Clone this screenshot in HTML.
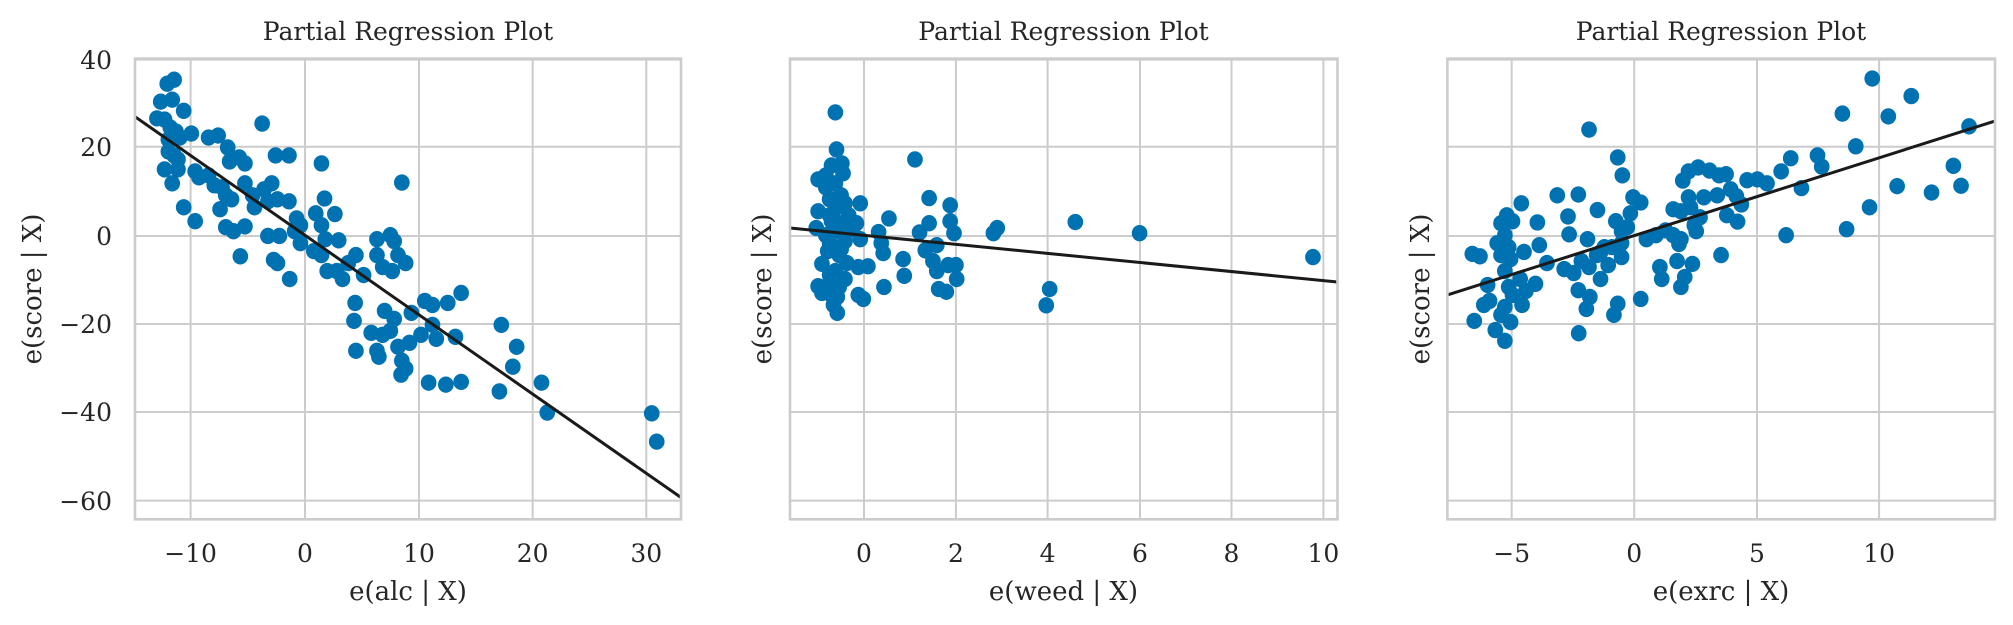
<!DOCTYPE html>
<html><head><meta charset="utf-8"><style>
html,body{margin:0;padding:0;background:#fff;}
svg{display:block;}
text{font-family:"DejaVu Serif","Liberation Serif",serif;fill:#262626;}
.t{font-size:25px;}
.l{font-size:26px;}
.ti{font-size:25px;}
.g line{stroke:#cccccc;stroke-width:2;}
.sp{fill:none;stroke:#cccccc;stroke-width:2.6;}
.d circle{fill:#0072b2;r:20.5px;}
</style></head><body>
<svg width="2013" height="625" viewBox="0 0 2013 625" xmlns="http://www.w3.org/2000/svg">
<defs>
<clipPath id="c1"><rect x="135" y="58.6" width="546" height="460.7"/></clipPath>
<clipPath id="c2"><rect x="790" y="58.6" width="547.5" height="460.7"/></clipPath>
<clipPath id="c3"><rect x="1447.4" y="58.6" width="547.6" height="460.7"/></clipPath>
</defs>
<rect width="2013" height="625" fill="#fff"/>

<!-- Panel 1 -->
<g class="g">
<line x1="135" x2="681" y1="59.6" y2="59.6"/><line x1="135" x2="681" y1="146.7" y2="146.7"/><line x1="135" x2="681" y1="236" y2="236"/><line x1="135" x2="681" y1="324" y2="324"/><line x1="135" x2="681" y1="412" y2="412"/><line x1="135" x2="681" y1="500.6" y2="500.6"/>
<line y1="58.6" y2="519.3" x1="190.6" x2="190.6"/><line y1="58.6" y2="519.3" x1="305" x2="305"/><line y1="58.6" y2="519.3" x1="419" x2="419"/><line y1="58.6" y2="519.3" x1="532.7" x2="532.7"/><line y1="58.6" y2="519.3" x1="646.3" x2="646.3"/>
</g>
<g clip-path="url(#c1)">
<g class="d" transform="scale(0.3827,0.3986)">
<circle r="20.5" cx="437" cy="210"/><circle r="20.5" cx="455" cy="200"/><circle r="20.5" cx="420" cy="255"/><circle r="20.5" cx="450" cy="250"/><circle r="20.5" cx="480" cy="278"/><circle r="20.5" cx="410" cy="297"/><circle r="20.5" cx="430" cy="300"/><circle r="20.5" cx="445" cy="320"/><circle r="20.5" cx="460" cy="330"/><circle r="20.5" cx="440" cy="350"/><circle r="20.5" cx="470" cy="345"/><circle r="20.5" cx="500" cy="335"/><circle r="20.5" cx="440" cy="380"/><circle r="20.5" cx="455" cy="390"/><circle r="20.5" cx="465" cy="400"/><circle r="20.5" cx="430" cy="425"/><circle r="20.5" cx="450" cy="460"/><circle r="20.5" cx="465" cy="425"/><circle r="20.5" cx="480" cy="520"/><circle r="20.5" cx="510" cy="555"/><circle r="20.5" cx="510" cy="430"/><circle r="20.5" cx="520" cy="445"/><circle r="20.5" cx="545" cy="345"/><circle r="20.5" cx="570" cy="340"/><circle r="20.5" cx="595" cy="370"/><circle r="20.5" cx="600" cy="405"/><circle r="20.5" cx="625" cy="395"/><circle r="20.5" cx="640" cy="410"/><circle r="20.5" cx="545" cy="440"/><circle r="20.5" cx="560" cy="465"/><circle r="20.5" cx="580" cy="470"/><circle r="20.5" cx="590" cy="490"/><circle r="20.5" cx="575" cy="525"/><circle r="20.5" cx="605" cy="500"/><circle r="20.5" cx="640" cy="460"/><circle r="20.5" cx="660" cy="490"/><circle r="20.5" cx="665" cy="520"/><circle r="20.5" cx="690" cy="475"/><circle r="20.5" cx="710" cy="460"/><circle r="20.5" cx="720" cy="390"/><circle r="20.5" cx="755" cy="390"/><circle r="20.5" cx="685" cy="310"/><circle r="20.5" cx="700" cy="505"/><circle r="20.5" cx="725" cy="500"/><circle r="20.5" cx="755" cy="505"/><circle r="20.5" cx="590" cy="570"/><circle r="20.5" cx="610" cy="580"/><circle r="20.5" cx="640" cy="568"/><circle r="20.5" cx="700" cy="592"/><circle r="20.5" cx="730" cy="592"/><circle r="20.5" cx="628" cy="643"/><circle r="20.5" cx="715" cy="652"/><circle r="20.5" cx="725" cy="660"/><circle r="20.5" cx="757" cy="700"/><circle r="20.5" cx="775" cy="548"/><circle r="20.5" cx="785" cy="565"/><circle r="20.5" cx="770" cy="580"/><circle r="20.5" cx="785" cy="610"/><circle r="20.5" cx="820" cy="630"/><circle r="20.5" cx="840" cy="640"/><circle r="20.5" cx="825" cy="535"/><circle r="20.5" cx="848" cy="498"/><circle r="20.5" cx="840" cy="565"/><circle r="20.5" cx="840" cy="410"/><circle r="20.5" cx="875" cy="537"/><circle r="20.5" cx="850" cy="600"/><circle r="20.5" cx="885" cy="603"/><circle r="20.5" cx="855" cy="680"/><circle r="20.5" cx="880" cy="680"/><circle r="20.5" cx="895" cy="700"/><circle r="20.5" cx="910" cy="660"/><circle r="20.5" cx="930" cy="640"/><circle r="20.5" cx="950" cy="690"/><circle r="20.5" cx="985" cy="600"/><circle r="20.5" cx="1020" cy="590"/><circle r="20.5" cx="1030" cy="605"/><circle r="20.5" cx="985" cy="640"/><circle r="20.5" cx="1040" cy="640"/><circle r="20.5" cx="1060" cy="660"/><circle r="20.5" cx="1000" cy="670"/><circle r="20.5" cx="1025" cy="680"/><circle r="20.5" cx="1050" cy="458"/><circle r="20.5" cx="928" cy="760"/><circle r="20.5" cx="925" cy="805"/><circle r="20.5" cx="930" cy="880"/><circle r="20.5" cx="970" cy="835"/><circle r="20.5" cx="1005" cy="780"/><circle r="20.5" cx="1030" cy="800"/><circle r="20.5" cx="1000" cy="840"/><circle r="20.5" cx="1020" cy="830"/><circle r="20.5" cx="985" cy="880"/><circle r="20.5" cx="990" cy="895"/><circle r="20.5" cx="1040" cy="870"/><circle r="20.5" cx="1050" cy="905"/><circle r="20.5" cx="1060" cy="925"/><circle r="20.5" cx="1048" cy="940"/><circle r="20.5" cx="1070" cy="860"/><circle r="20.5" cx="1075" cy="785"/><circle r="20.5" cx="1110" cy="755"/><circle r="20.5" cx="1130" cy="765"/><circle r="20.5" cx="1100" cy="840"/><circle r="20.5" cx="1130" cy="815"/><circle r="20.5" cx="1140" cy="850"/><circle r="20.5" cx="1170" cy="760"/><circle r="20.5" cx="1205" cy="735"/><circle r="20.5" cx="1190" cy="845"/><circle r="20.5" cx="1120" cy="960"/><circle r="20.5" cx="1165" cy="965"/><circle r="20.5" cx="1205" cy="958"/><circle r="20.5" cx="1310" cy="815"/><circle r="20.5" cx="1350" cy="870"/><circle r="20.5" cx="1340" cy="920"/><circle r="20.5" cx="1305" cy="982"/><circle r="20.5" cx="1415" cy="960"/><circle r="20.5" cx="1430" cy="1035"/><circle r="20.5" cx="1703" cy="1037"/><circle r="20.5" cx="1716" cy="1108"/>
</g>
<line x1="134.7" y1="116.5" x2="681" y2="497.5" stroke="#1a1a1a" stroke-width="3"/>
</g>
<rect class="sp" x="135" y="58.6" width="546" height="460.7"/>
<g class="t" text-anchor="end">
<text x="112" y="69">40</text><text x="112" y="156">20</text><text x="112" y="245">0</text><text x="112" y="333">−20</text><text x="112" y="421">−40</text><text x="112" y="510">−60</text>
</g>
<g class="t" text-anchor="middle">
<text x="190.6" y="562">−10</text><text x="305" y="562">0</text><text x="419" y="562">10</text><text x="532.7" y="562">20</text><text x="646.3" y="562">30</text>
</g>
<text class="ti" x="408" y="40" text-anchor="middle">Partial Regression Plot</text>
<text class="l" x="408" y="600" text-anchor="middle">e(alc | X)</text>
<text class="l" transform="translate(41,289) rotate(-90)" text-anchor="middle">e(score | X)</text>

<!-- Panel 2 -->
<g class="g">
<line x1="790" x2="1337.5" y1="59.6" y2="59.6"/><line x1="790" x2="1337.5" y1="146.7" y2="146.7"/><line x1="790" x2="1337.5" y1="236" y2="236"/><line x1="790" x2="1337.5" y1="324" y2="324"/><line x1="790" x2="1337.5" y1="412" y2="412"/><line x1="790" x2="1337.5" y1="500.6" y2="500.6"/>
<line y1="58.6" y2="519.3" x1="864" x2="864"/><line y1="58.6" y2="519.3" x1="955.9" x2="955.9"/><line y1="58.6" y2="519.3" x1="1047.6" x2="1047.6"/><line y1="58.6" y2="519.3" x1="1140" x2="1140"/><line y1="58.6" y2="519.3" x1="1231.5" x2="1231.5"/><line y1="58.6" y2="519.3" x1="1323.4" x2="1323.4"/>
</g>
<g clip-path="url(#c2)">
<g class="d" transform="translate(600,0) scale(0.3827,0.3986)">
<circle r="20.5" cx="615" cy="282"/><circle r="20.5" cx="618" cy="375"/><circle r="20.5" cx="605" cy="415"/><circle r="20.5" cx="632" cy="410"/><circle r="20.5" cx="635" cy="435"/><circle r="20.5" cx="570" cy="450"/><circle r="20.5" cx="590" cy="470"/><circle r="20.5" cx="615" cy="460"/><circle r="20.5" cx="630" cy="490"/><circle r="20.5" cx="600" cy="500"/><circle r="20.5" cx="620" cy="520"/><circle r="20.5" cx="640" cy="510"/><circle r="20.5" cx="570" cy="530"/><circle r="20.5" cx="600" cy="540"/><circle r="20.5" cx="650" cy="540"/><circle r="20.5" cx="670" cy="560"/><circle r="20.5" cx="565" cy="572"/><circle r="20.5" cx="590" cy="590"/><circle r="20.5" cx="620" cy="580"/><circle r="20.5" cx="660" cy="575"/><circle r="20.5" cx="600" cy="610"/><circle r="20.5" cx="640" cy="605"/><circle r="20.5" cx="680" cy="600"/><circle r="20.5" cx="595" cy="630"/><circle r="20.5" cx="625" cy="640"/><circle r="20.5" cx="645" cy="660"/><circle r="20.5" cx="580" cy="662"/><circle r="20.5" cx="615" cy="680"/><circle r="20.5" cx="640" cy="700"/><circle r="20.5" cx="570" cy="718"/><circle r="20.5" cx="600" cy="710"/><circle r="20.5" cx="580" cy="735"/><circle r="20.5" cx="620" cy="745"/><circle r="20.5" cx="610" cy="765"/><circle r="20.5" cx="620" cy="785"/><circle r="20.5" cx="605" cy="555"/><circle r="20.5" cx="625" cy="560"/><circle r="20.5" cx="610" cy="620"/><circle r="20.5" cx="630" cy="625"/><circle r="20.5" cx="600" cy="690"/><circle r="20.5" cx="625" cy="720"/><circle r="20.5" cx="605" cy="740"/><circle r="20.5" cx="590" cy="440"/><circle r="20.5" cx="615" cy="500"/><circle r="20.5" cx="680" cy="510"/><circle r="20.5" cx="675" cy="670"/><circle r="20.5" cx="700" cy="668"/><circle r="20.5" cx="675" cy="740"/><circle r="20.5" cx="688" cy="750"/><circle r="20.5" cx="728" cy="582"/><circle r="20.5" cx="755" cy="548"/><circle r="20.5" cx="735" cy="610"/><circle r="20.5" cx="740" cy="635"/><circle r="20.5" cx="742" cy="720"/><circle r="20.5" cx="792" cy="650"/><circle r="20.5" cx="795" cy="692"/><circle r="20.5" cx="823" cy="400"/><circle r="20.5" cx="860" cy="497"/><circle r="20.5" cx="915" cy="515"/><circle r="20.5" cx="860" cy="560"/><circle r="20.5" cx="915" cy="555"/><circle r="20.5" cx="835" cy="583"/><circle r="20.5" cx="925" cy="585"/><circle r="20.5" cx="850" cy="628"/><circle r="20.5" cx="880" cy="615"/><circle r="20.5" cx="870" cy="655"/><circle r="20.5" cx="880" cy="680"/><circle r="20.5" cx="910" cy="665"/><circle r="20.5" cx="930" cy="665"/><circle r="20.5" cx="932" cy="700"/><circle r="20.5" cx="885" cy="725"/><circle r="20.5" cx="905" cy="732"/><circle r="20.5" cx="1028" cy="585"/><circle r="20.5" cx="1038" cy="572"/><circle r="20.5" cx="1175" cy="725"/><circle r="20.5" cx="1166" cy="766"/><circle r="20.5" cx="1242" cy="557"/><circle r="20.5" cx="1410" cy="585"/><circle r="20.5" cx="1863" cy="645"/>
</g>
<line x1="790" y1="228" x2="1337.5" y2="282" stroke="#1a1a1a" stroke-width="3"/>
</g>
<rect class="sp" x="790" y="58.6" width="547.5" height="460.7"/>
<g class="t" text-anchor="middle">
<text x="864" y="562">0</text><text x="955.9" y="562">2</text><text x="1047.6" y="562">4</text><text x="1140" y="562">6</text><text x="1231.5" y="562">8</text><text x="1323.4" y="562">10</text>
</g>
<text class="ti" x="1063.5" y="40" text-anchor="middle">Partial Regression Plot</text>
<text class="l" x="1063.5" y="600" text-anchor="middle">e(weed | X)</text>
<text class="l" transform="translate(771,289) rotate(-90)" text-anchor="middle">e(score | X)</text>

<!-- Panel 3 -->
<g class="g">
<line x1="1447.4" x2="1995" y1="59.6" y2="59.6"/><line x1="1447.4" x2="1995" y1="146.7" y2="146.7"/><line x1="1447.4" x2="1995" y1="236" y2="236"/><line x1="1447.4" x2="1995" y1="324" y2="324"/><line x1="1447.4" x2="1995" y1="412" y2="412"/><line x1="1447.4" x2="1995" y1="500.6" y2="500.6"/>
<line y1="58.6" y2="519.3" x1="1511.7" x2="1511.7"/><line y1="58.6" y2="519.3" x1="1634.2" x2="1634.2"/><line y1="58.6" y2="519.3" x1="1757" x2="1757"/><line y1="58.6" y2="519.3" x1="1879.1" x2="1879.1"/>
</g>
<g clip-path="url(#c3)">
<g class="d" transform="translate(1413,0) scale(0.3827,0.3986)">
<circle r="20.5" cx="1200" cy="197"/><circle r="20.5" cx="1302" cy="241"/><circle r="20.5" cx="1122" cy="285"/><circle r="20.5" cx="1242" cy="292"/><circle r="20.5" cx="1453" cy="317"/><circle r="20.5" cx="1157" cy="367"/><circle r="20.5" cx="1412" cy="416"/><circle r="20.5" cx="1265" cy="467"/><circle r="20.5" cx="1355" cy="483"/><circle r="20.5" cx="1432" cy="466"/><circle r="20.5" cx="1193" cy="520"/><circle r="20.5" cx="1133" cy="575"/><circle r="20.5" cx="975" cy="590"/><circle r="20.5" cx="962" cy="430"/><circle r="20.5" cx="987" cy="397"/><circle r="20.5" cx="1057" cy="390"/><circle r="20.5" cx="1068" cy="418"/><circle r="20.5" cx="1015" cy="472"/><circle r="20.5" cx="873" cy="452"/><circle r="20.5" cx="900" cy="450"/><circle r="20.5" cx="925" cy="460"/><circle r="20.5" cx="805" cy="640"/><circle r="20.5" cx="705" cy="453"/><circle r="20.5" cx="720" cy="430"/><circle r="20.5" cx="745" cy="420"/><circle r="20.5" cx="775" cy="428"/><circle r="20.5" cx="800" cy="440"/><circle r="20.5" cx="818" cy="437"/><circle r="20.5" cx="830" cy="475"/><circle r="20.5" cx="845" cy="492"/><circle r="20.5" cx="858" cy="513"/><circle r="20.5" cx="820" cy="540"/><circle r="20.5" cx="848" cy="556"/><circle r="20.5" cx="760" cy="495"/><circle r="20.5" cx="795" cy="490"/><circle r="20.5" cx="720" cy="495"/><circle r="20.5" cx="680" cy="525"/><circle r="20.5" cx="700" cy="530"/><circle r="20.5" cx="725" cy="520"/><circle r="20.5" cx="750" cy="545"/><circle r="20.5" cx="735" cy="565"/><circle r="20.5" cx="740" cy="580"/><circle r="20.5" cx="680" cy="590"/><circle r="20.5" cx="700" cy="600"/><circle r="20.5" cx="695" cy="612"/><circle r="20.5" cx="610" cy="600"/><circle r="20.5" cx="635" cy="590"/><circle r="20.5" cx="660" cy="578"/><circle r="20.5" cx="575" cy="495"/><circle r="20.5" cx="595" cy="508"/><circle r="20.5" cx="535" cy="395"/><circle r="20.5" cx="547" cy="440"/><circle r="20.5" cx="568" cy="535"/><circle r="20.5" cx="530" cy="555"/><circle r="20.5" cx="560" cy="570"/><circle r="20.5" cx="545" cy="610"/><circle r="20.5" cx="545" cy="645"/><circle r="20.5" cx="520" cy="620"/><circle r="20.5" cx="510" cy="665"/><circle r="20.5" cx="490" cy="700"/><circle r="20.5" cx="460" cy="325"/><circle r="20.5" cx="432" cy="488"/><circle r="20.5" cx="377" cy="490"/><circle r="20.5" cx="405" cy="543"/><circle r="20.5" cx="408" cy="588"/><circle r="20.5" cx="456" cy="600"/><circle r="20.5" cx="482" cy="527"/><circle r="20.5" cx="500" cy="620"/><circle r="20.5" cx="480" cy="640"/><circle r="20.5" cx="440" cy="655"/><circle r="20.5" cx="460" cy="670"/><circle r="20.5" cx="420" cy="685"/><circle r="20.5" cx="395" cy="675"/><circle r="20.5" cx="350" cy="660"/><circle r="20.5" cx="330" cy="615"/><circle r="20.5" cx="325" cy="558"/><circle r="20.5" cx="290" cy="632"/><circle r="20.5" cx="283" cy="510"/><circle r="20.5" cx="260" cy="555"/><circle r="20.5" cx="245" cy="540"/><circle r="20.5" cx="230" cy="560"/><circle r="20.5" cx="240" cy="590"/><circle r="20.5" cx="220" cy="610"/><circle r="20.5" cx="250" cy="620"/><circle r="20.5" cx="230" cy="640"/><circle r="20.5" cx="255" cy="650"/><circle r="20.5" cx="240" cy="680"/><circle r="20.5" cx="280" cy="700"/><circle r="20.5" cx="250" cy="720"/><circle r="20.5" cx="260" cy="740"/><circle r="20.5" cx="285" cy="765"/><circle r="20.5" cx="240" cy="770"/><circle r="20.5" cx="230" cy="790"/><circle r="20.5" cx="255" cy="808"/><circle r="20.5" cx="215" cy="828"/><circle r="20.5" cx="240" cy="855"/><circle r="20.5" cx="160" cy="805"/><circle r="20.5" cx="185" cy="765"/><circle r="20.5" cx="200" cy="755"/><circle r="20.5" cx="195" cy="715"/><circle r="20.5" cx="155" cy="637"/><circle r="20.5" cx="175" cy="643"/><circle r="20.5" cx="320" cy="712"/><circle r="20.5" cx="295" cy="730"/><circle r="20.5" cx="432" cy="728"/><circle r="20.5" cx="462" cy="745"/><circle r="20.5" cx="453" cy="775"/><circle r="20.5" cx="535" cy="762"/><circle r="20.5" cx="525" cy="790"/><circle r="20.5" cx="595" cy="750"/><circle r="20.5" cx="645" cy="670"/><circle r="20.5" cx="650" cy="700"/><circle r="20.5" cx="690" cy="655"/><circle r="20.5" cx="730" cy="662"/><circle r="20.5" cx="710" cy="695"/><circle r="20.5" cx="700" cy="720"/><circle r="20.5" cx="433" cy="836"/><circle r="20.5" cx="490" cy="633"/><circle r="20.5" cx="545" cy="580"/>
</g>
<line x1="1447.4" y1="295" x2="1995" y2="121" stroke="#1a1a1a" stroke-width="3"/>
</g>
<rect class="sp" x="1447.4" y="58.6" width="547.6" height="460.7"/>
<g class="t" text-anchor="middle">
<text x="1511.7" y="562">−5</text><text x="1634.2" y="562">0</text><text x="1757" y="562">5</text><text x="1879.1" y="562">10</text>
</g>
<text class="ti" x="1721" y="40" text-anchor="middle">Partial Regression Plot</text>
<text class="l" x="1721" y="600" text-anchor="middle">e(exrc | X)</text>
<text class="l" transform="translate(1429,289) rotate(-90)" text-anchor="middle">e(score | X)</text>
</svg>
</body></html>
